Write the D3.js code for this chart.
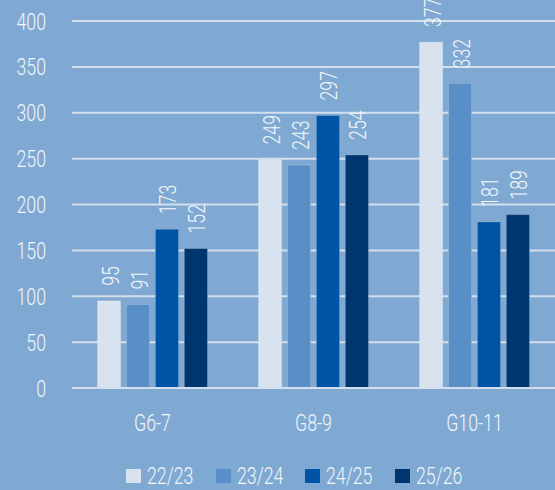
<!DOCTYPE html>
<html>
<head>
<meta charset="utf-8">
<script src="https://cdn.jsdelivr.net/npm/d3@7"></script>
<style>
  html, body { margin: 0; padding: 0; background: #7fa9d2; }
  svg { display: block; }
  text { font-family: Roboto, "Noto Sans", sans-serif; font-weight: 300; fill: #f2f6fa; }
</style>
</head>
<body>
<svg id="chart" width="555" height="490"></svg>
<script>
// Enrolment by grade band, four school years
const categories = ["G6-7", "G8-9", "G10-11"];
const years = ["22/23", "23/24", "24/25", "25/26"];
const values2223 = [95, 249, 377];
const values2324 = [91, 243, 332];
const values2425 = [173, 297, 181];
const values2526 = [152, 254, 189];
const yTicks = [0, 50, 100, 150, 200, 250, 300, 350, 400];
const colors = ["#d8e3ef", "#5a8ec6", "#0054a5", "#00366f"];

const series = [values2223, values2324, values2425, values2526];

const svg = d3.select("#chart");
const W = 555;
const plotLeft = 72, plotTop = 21, plotBottom = 388;
const FS = "24px";      // label font size
const SX = 0.74;        // horizontal condensing of the typeface

const x = d3.scaleBand().domain(categories).range([plotLeft, W]).padding(0);
const xi = d3.scaleBand().domain(years).range([0, 110]).paddingInner(0.2);
const y = d3.scaleLinear().domain([0, 400]).range([plotBottom, plotTop]);

// horizontal gridlines
svg.append("g").selectAll("line").data(yTicks).join("line")
  .attr("x1", plotLeft).attr("x2", W)
  .attr("y1", d => y(d)).attr("y2", d => y(d))
  .attr("stroke", "#d3dfec").attr("stroke-width", 2);

// y tick labels
svg.append("g").selectAll("text").data(yTicks).join("text")
  .attr("transform", d => `translate(46,${y(d)}) scale(${SX},1)`)
  .attr("text-anchor", "end").attr("dominant-baseline", "central")
  .style("font-size", FS)
  .text(d => d);

// bars with rotated value labels
const groups = svg.append("g").selectAll("g").data(categories).join("g")
  .attr("transform", c => `translate(${x(c) + (x.bandwidth() - 110) / 2},0)`);

groups.each(function(c, ci) {
  const g = d3.select(this);
  years.forEach((yr, si) => {
    const v = series[si][ci];
    g.append("rect")
      .attr("x", xi(yr)).attr("width", xi.bandwidth())
      .attr("y", y(v)).attr("height", y(0) - y(v))
      .attr("fill", colors[si])
      .attr("stroke", "rgba(255,255,255,0.18)").attr("stroke-width", 1);
    const lx = xi(yr) + xi.bandwidth() / 2 + 1;
    const ly = y(v) - 15;
    g.append("text")
      .attr("transform", `translate(${lx},${ly}) rotate(-90) scale(${SX},1)`)
      .attr("dominant-baseline", "central")
      .attr("text-anchor", "start")
      .style("font-size", FS)
      .text(v);
  });
});

// baseline
svg.append("line")
  .attr("x1", plotLeft).attr("x2", W)
  .attr("y1", y(0)).attr("y2", y(0))
  .attr("stroke", "#d3dfec").attr("stroke-width", 2);

// category labels
svg.append("g").selectAll("text").data(categories).join("text")
  .attr("transform", c => `translate(${x(c) + x.bandwidth() / 2},422) scale(${SX},1)`)
  .attr("text-anchor", "middle").attr("dominant-baseline", "central")
  .style("font-size", FS)
  .text(c => c);

// legend
const legendX = [126, 216, 305, 395];
const legend = svg.append("g").selectAll("g").data(years).join("g")
  .attr("transform", (d, i) => `translate(${legendX[i]},469)`);
legend.append("rect").attr("width", 15).attr("height", 14)
  .attr("fill", (d, i) => colors[i]);
legend.append("text")
  .attr("transform", `translate(21,6.5) scale(${SX},1)`)
  .attr("dominant-baseline", "central")
  .style("font-size", FS)
  .text(d => d);
</script>
</body>
</html>
